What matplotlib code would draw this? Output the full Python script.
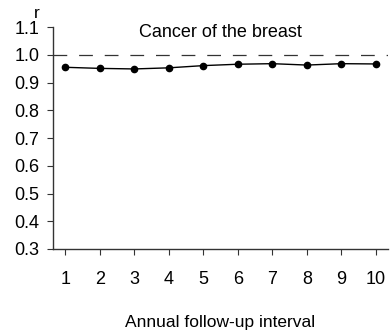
import matplotlib
matplotlib.use("Agg")
import matplotlib.pyplot as plt

intervals = [1, 2, 3, 4, 5, 6, 7, 8, 9, 10]
r_values = [0.955, 0.951, 0.949, 0.953, 0.961, 0.966, 0.968, 0.963, 0.968, 0.967]
y_ticks = [0.3, 0.4, 0.5, 0.6, 0.7, 0.8, 0.9, 1.0, 1.1]
title = "Cancer of the breast"
xlabel = "Annual follow-up interval"
ylabel = "r"

plt.rcParams['font.family'] = ['Liberation Sans', 'DejaVu Sans']

fig = plt.figure(figsize=(3.9, 3.34), dpi=100)
ax = fig.add_axes([0.136, 0.2545, 0.859, 0.6645])

ax.axhline(1.0, color='#333333', lw=0.9, ls=(0, (11, 9.5)))
ax.plot(intervals, r_values, color='black', lw=1.0, marker='o', markersize=4.5)

ax.set_xlim(0.65, 10.35)
ax.set_ylim(0.3, 1.1)
ax.set_xticks(intervals)
ax.set_xticklabels([str(i) for i in intervals])
ax.set_yticks(y_ticks)
ax.set_yticklabels([f"{v:.1f}" for v in y_ticks])

for s in ['top', 'right']:
    ax.spines[s].set_visible(False)
for s in ['left', 'bottom']:
    ax.spines[s].set_color('#333333')
    ax.spines[s].set_linewidth(1.0)

ax.tick_params(axis='x', direction='out', length=4, pad=12, labelsize=13, colors='#333333', labelcolor='black')
ax.tick_params(axis='y', direction='out', length=4, pad=6, labelsize=13, colors='#333333', labelcolor='black')

ax.set_xlabel(xlabel, fontsize=12.5, labelpad=19)
ax.text(5.5, 1.064, title, ha='center', va='baseline', fontsize=13, clip_on=False)
fig.text(37/390, 1 - 13/334, ylabel, ha='center', va='center', fontsize=12.5)

fig.savefig("out.png", dpi=100)
